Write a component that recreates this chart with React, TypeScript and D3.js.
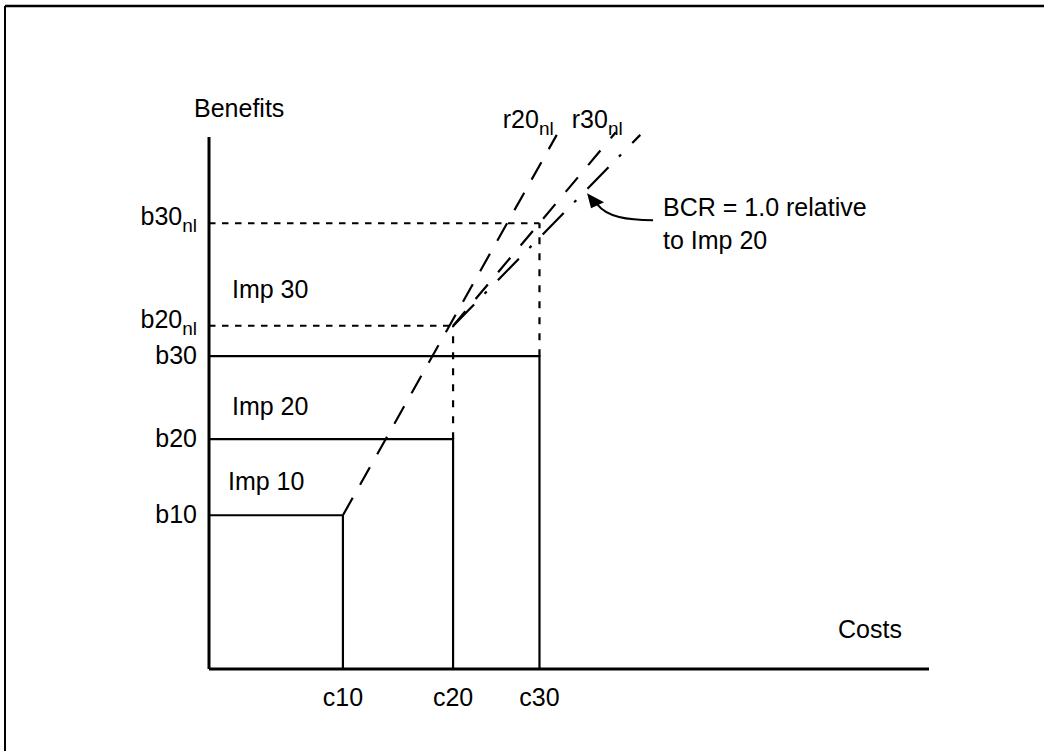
import React from 'react';
import * as d3 from 'd3';

// Conceptual data (arbitrary units)
const costLabels = ['c10', 'c20', 'c30'];
const costValues = [18.6, 33.9, 45.9];
const benefitLabels = ['b10', 'b20', 'b30'];
const benefitValues = [28.9, 43.2, 58.8];
const nlLabels = ['b20', 'b30'];
const nlValues = [64.5, 83.8]; // b20nl, b30nl
const impLabels = ['Imp 10', 'Imp 20', 'Imp 30'];
const r20End = [48.3, 100.4];
const r30End = [56.5, 100.9];
const bcrEnd = [59.9, 100.4];
const axisMax = [100, 100];

const W = 1047;
const H = 751;
const FONT = '"Liberation Sans", Arial, Helvetica, sans-serif';

export default function App() {
  const x = d3.scaleLinear().domain([0, axisMax[0]]).range([209, 929]);
  const y = d3.scaleLinear().domain([0, axisMax[1]]).range([669, 137]);
  const line = d3.line<number[]>().x((d) => x(d[0])).y((d) => y(d[1]));

  const r20 = [[costValues[0], benefitValues[0]], r20End];
  const r30 = [[costValues[1], nlValues[0]], r30End];
  const bcr = [[costValues[1], nlValues[0]], bcrEnd];

  // arrow tip on BCR line
  const tFrac = 0.705;
  const tipX = x(bcr[0][0] + (bcr[1][0] - bcr[0][0]) * tFrac) + 2;
  const tipY = y(bcr[0][1] + (bcr[1][1] - bcr[0][1]) * tFrac) + 2;

  const fs = 25;
  const subFs = 19;
  const imp = [
    { label: impLabels[0], xx: 228, yy: y(benefitValues[0]) - 25 },
    { label: impLabels[1], xx: 232, yy: y(benefitValues[1]) - 24 },
    { label: impLabels[2], xx: 232, yy: y(nlValues[0]) - 28 },
  ];

  return (
    <svg
      width={W}
      height={H}
      style={{ position: 'absolute', left: 0, top: 0, background: '#fff' }}
      fontFamily={FONT}
    >
      <rect x={0} y={0} width={W} height={H} fill="#fff" />
      {/* frame */}
      <line x1={5} y1={6} x2={1044} y2={6} stroke="#000" strokeWidth={2.5} />
      <line x1={5} y1={6} x2={5} y2={H} stroke="#000" strokeWidth={2} />

      {/* axes */}
      <line x1={x(0)} y1={y(axisMax[1])} x2={x(0)} y2={y(0)} stroke="#000" strokeWidth={3} />
      <line x1={x(0)} y1={y(0)} x2={x(axisMax[0])} y2={y(0)} stroke="#000" strokeWidth={3} />

      {/* improvement boxes */}
      {costValues.map((c, i) => (
        <path
          key={'box' + i}
          d={`M${x(0)},${y(benefitValues[i])}H${x(c)}V${y(0)}`}
          fill="none"
          stroke="#000"
          strokeWidth={2.2}
        />
      ))}

      {/* dotted reference lines */}
      {nlValues.map((v, i) => (
        <g key={'nl' + i}>
          <line
            x1={x(0)}
            y1={y(v)}
            x2={x(costValues[i + 1])}
            y2={y(v)}
            stroke="#000"
            strokeWidth={2}
            strokeDasharray="6.5,6.5"
          />
          <line
            x1={x(costValues[i + 1])}
            y1={y(benefitValues[i + 1])}
            x2={x(costValues[i + 1])}
            y2={y(v)}
            stroke="#000"
            strokeWidth={2.2}
            strokeDasharray="7,9"
          />
        </g>
      ))}

      {/* rays */}
      <path d={line(r20) || ''} fill="none" stroke="#000" strokeWidth={2.2} strokeDasharray="20,15" />
      <path d={line(r30) || ''} fill="none" stroke="#000" strokeWidth={2.2} strokeDasharray="19,16" />
      <path d={line(bcr) || ''} fill="none" stroke="#000" strokeWidth={2.2} strokeDasharray="30,15,3,16" />

      {/* annotation arrow */}
      <path
        d={`M${tipX + 66},${tipY + 27} C${tipX + 40},${tipY + 27} ${tipX + 20},${tipY + 24} ${tipX + 10},${tipY + 11}`}
        fill="none"
        stroke="#000"
        strokeWidth={2}
      />
      <polygon
        points={`${tipX},${tipY} ${tipX + 4},${tipY + 15} ${tipX + 17},${tipY + 9}`}
        fill="#000"
      />
      <text x={tipX + 76} y={tipY + 23} fontSize={fs}>BCR = 1.0 relative</text>
      <text x={tipX + 76} y={tipY + 56} fontSize={fs}>to Imp 20</text>

      {/* ray labels */}
      <text x={x(r20End[0]) - 54} y={128} fontSize={fs}>
        r20<tspan fontSize={subFs} dy={7}>nl</tspan>
      </text>
      <text x={x(r30End[0]) - 44} y={128} fontSize={fs}>
        r30<tspan fontSize={subFs} dy={7}>nl</tspan>
      </text>

      {/* axis titles */}
      <text x={194} y={117} fontSize={fs}>Benefits</text>
      <text x={838} y={638} fontSize={fs}>Costs</text>

      {/* cost tick labels */}
      {costValues.map((c, i) => (
        <text key={'cl' + i} x={x(c)} y={y(0) + 37} fontSize={fs} textAnchor="middle">
          {costLabels[i]}
        </text>
      ))}

      {/* benefit tick labels */}
      {benefitValues.map((b, i) => (
        <text key={'bl' + i} x={197} y={y(b) + 8} fontSize={fs} textAnchor="end">
          {benefitLabels[i]}
        </text>
      ))}
      {nlValues.map((b, i) => (
        <text key={'nll' + i} x={197} y={y(b) + 2} fontSize={fs} textAnchor="end">
          {nlLabels[i]}
          <tspan fontSize={subFs} dy={7}>nl</tspan>
        </text>
      ))}

      {/* improvement labels */}
      {imp.map((d, i) => (
        <text key={'imp' + i} x={d.xx} y={d.yy} fontSize={fs}>
          {d.label}
        </text>
      ))}
    </svg>
  );
}
